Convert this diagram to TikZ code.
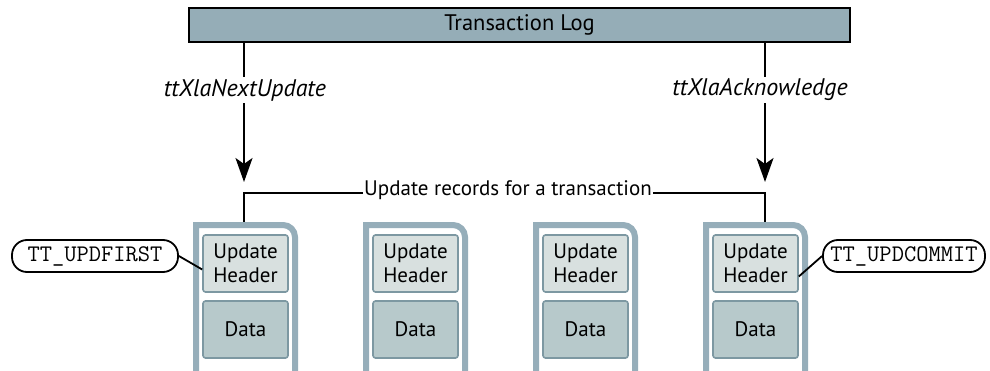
\documentclass[tikz,border=0pt]{standalone}
\usepackage{fontspec}
\setmainfont{PT Sans}
\usetikzlibrary{arrows.meta}
\definecolor{logfill}{HTML}{95ADB7}
\definecolor{framecol}{HTML}{96AEBA}
\definecolor{hdrfill}{HTML}{D8E0DF}
\definecolor{datfill}{HTML}{B7C9CB}
\definecolor{boxline}{HTML}{7D98A2}
\tikzset{
  logbox/.style={draw=black, line width=1.4pt, fill=logfill, minimum width=661pt,
    minimum height=34pt, inner sep=0pt, font=\fontsize{22.5}{26}\selectfont},
  call/.style={font=\fontsize{24}{28}\selectfont\itshape, inner sep=2pt},
  flow/.style={line width=2.4pt, draw=black},
  flowarrow/.style={flow, -{Stealth[length=24pt, width=17pt, inset=6pt]}},
  recframe/.style={draw=framecol, line width=6pt, fill=white},
  part/.style={draw=boxline, line width=1.6pt, rounded corners=2.5pt,
    minimum width=85pt, minimum height=57pt, inner sep=0pt, align=center,
    font=\fontsize{21}{24.5}\selectfont},
  hdrbox/.style={part, fill=hdrfill},
  datbox/.style={part, fill=datfill},
  flag/.style={draw=black, line width=1.8pt, fill=white, rounded corners=15pt,
    minimum height=32pt, inner sep=0pt, font=\fontsize{23.8}{26}\ttfamily},
  leader/.style={line width=1.8pt, draw=black}
}
\begin{document}
\begin{tikzpicture}[x=1pt, y=1pt]
  \useasboundingbox (0,0) rectangle (990,370);
  \clip (0,0) rectangle (990,370);
  \fill[white] (0,0) rectangle (990,370);

  % transaction log bar
  \node[logbox] (log) at (519.5,345) {Transaction Log};

  % the four update records
  \foreach \i/\L in {1/193, 2/363, 3/533, 4/703} {
    \path[recframe] (\L+3,-10) -- (\L+3,145) -- (\L+90,145)
      arc[start angle=90, end angle=0, radius=12] -- (\L+102,-10);
    \coordinate (top\i) at (\L+52,148);
    \node[hdrbox] (hdr\i) at (\L+52.5,106.5) {Update\\Header};
    \node[datbox] (dat\i) at (\L+52.5,40.5) {Data};
  }

  % API calls reading and acknowledging records
  \node[call] (next) at (245,280) {ttXlaNextUpdate};
  \node[call] (ack) at (760,280) {ttXlaAcknowledge};
  \coordinate (tipL) at (244,188);
  \coordinate (tipR) at (765,188);
  \draw[flow] (tipL |- log.south) -- (tipL |- next.north);
  \draw[flowarrow] (tipL |- next.south) -- (tipL);
  \draw[flow] (tipR |- log.south) -- (tipR |- ack.north);
  \draw[flowarrow] (tipR |- ack.south) -- (tipR);

  % bracket over the records of one transaction
  \node[font=\fontsize{21}{25}\selectfont, inner sep=1pt] (span) at (508,180)
    {Update records for a transaction};
  \coordinate (brL) at (244,177);
  \coordinate (brR) at (765,177);
  \draw[flow] (span.west |- brL) -- (brL) -- (brL |- top1);
  \draw[flow] (span.east |- brR) -- (brR) -- (brR |- top4);

  % record type flags
  \node[flag, minimum width=166pt] (first) at (95,114) {TT\_UPDFIRST};
  \node[flag, minimum width=162pt] (commit) at (904,114) {TT\_UPDCOMMIT};
  \draw[leader] (first.east) -- ([yshift=-6pt]hdr1.west);
  \draw[leader] (commit.west) -- ([yshift=-13pt]hdr4.east);
\end{tikzpicture}
\end{document}
